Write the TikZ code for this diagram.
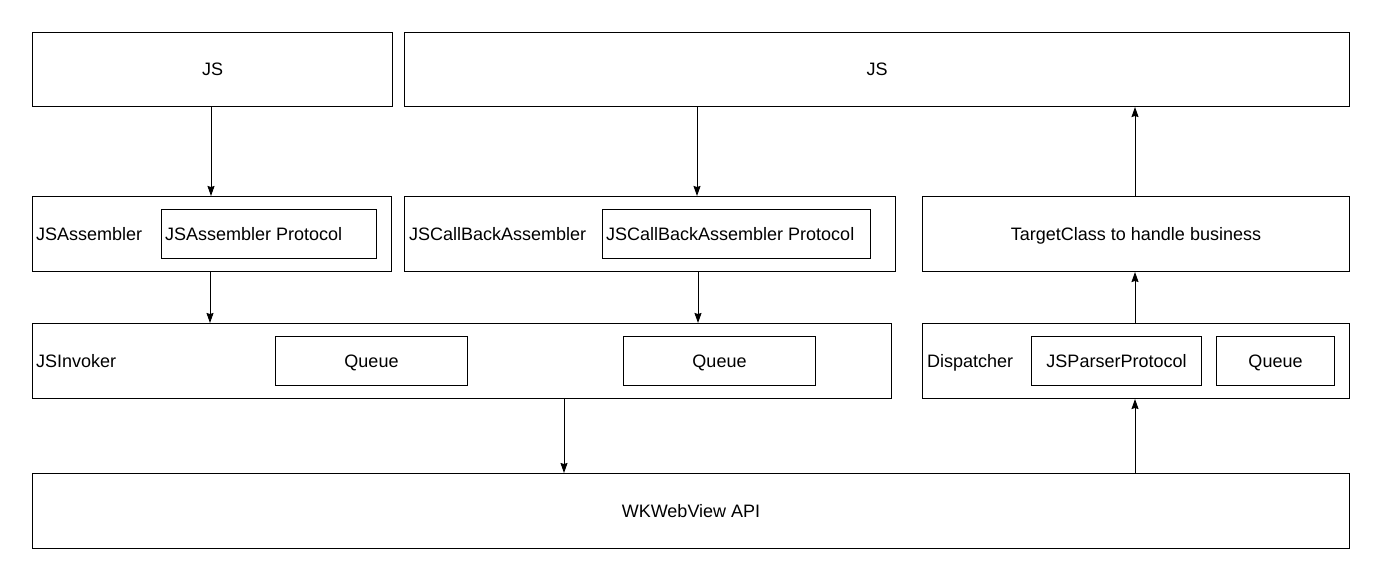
\documentclass[tikz,border=0pt]{standalone}
\usepackage{fontspec}
\setmainfont{Liberation Sans}
\usetikzlibrary{arrows.meta}
\begin{document}
\begin{tikzpicture}[x=1pt,y=-1pt,
  every node/.style={font=\fontsize{18}{21}\selectfont, text height=12.9pt, text depth=0pt},
  box/.style={draw, line width=1pt, inner sep=0pt, anchor=north west},
  lbl/.style={inner sep=0pt, anchor=west},
  arr/.style={line width=1pt, -{Stealth[length=10pt,width=7pt,inset=1pt]}}]
\useasboundingbox[fill=white] (0,0) rectangle (1380,580);
% top row
\node[box, minimum width=360pt, minimum height=74pt] (jsL) at (32,32) {JS};
\node[box, minimum width=945pt, minimum height=74pt] (jsR) at (404,32) {JS};
% second row
\node[box, minimum width=359pt, minimum height=75pt] (asm) at (32,196) {};
\node[box, minimum width=215pt, minimum height=49pt] (asmP) at (161,209) {};
\node[lbl] (asmL) at ([xshift=4pt]asm.west) {JSAssembler};
\node[lbl] (asmPL) at ([xshift=4pt]asmP.west) {JSAssembler Protocol};
\node[box, minimum width=491pt, minimum height=75pt] (cb) at (404,196) {};
\node[box, minimum width=268pt, minimum height=49pt] (cbP) at (602,209) {};
\node[lbl] (cbL) at ([xshift=5pt]cb.west) {JSCallBackAssembler};
\node[lbl] (cbPL) at ([xshift=4pt]cbP.west) {JSCallBackAssembler Protocol};
\node[box, minimum width=427pt, minimum height=75pt] (tgt) at (922,196) {TargetClass to handle business};
% third row
\node[box, minimum width=859pt, minimum height=75pt] (inv) at (32,323) {};
\node[lbl] (invL) at ([xshift=4pt]inv.west) {JSInvoker};
\node[box, minimum width=192pt, minimum height=49pt] (q1) at (275,336) {Queue};
\node[box, minimum width=192pt, minimum height=49pt] (q2) at (623,336) {Queue};
\node[box, minimum width=427pt, minimum height=75pt] (disp) at (922,323) {};
\node[lbl] (dispL) at ([xshift=5pt]disp.west) {Dispatcher};
\node[box, minimum width=170pt, minimum height=49pt] (jsp) at (1031,336) {JSParserProtocol};
\node[box, minimum width=118pt, minimum height=49pt] (q3) at (1216,336) {Queue};
% bottom
\node[box, minimum width=1317pt, minimum height=75pt] (wk) at (32,473) {WKWebView API};
% arrow columns
\coordinate (c1) at (211,0);
\coordinate (c2) at (697,0);
\coordinate (c3) at (1135,0);
\coordinate (c4) at (210,0);
\coordinate (c5) at (698,0);
\coordinate (c7) at (564,0);
% arrows
\draw[arr] (c1 |- jsL.south) -- (c1 |- asm.north);
\draw[arr] (c2 |- jsR.south) -- (c2 |- cb.north);
\draw[arr] (c3 |- tgt.north) -- (c3 |- jsR.south);
\draw[arr] (c4 |- asm.south) -- (c4 |- inv.north);
\draw[arr] (c5 |- cb.south) -- (c5 |- inv.north);
\draw[arr] (c3 |- disp.north) -- (c3 |- tgt.south);
\draw[arr] (c7 |- inv.south) -- (c7 |- wk.north);
\draw[arr] (c3 |- wk.north) -- (c3 |- disp.south);
\end{tikzpicture}
\end{document}
